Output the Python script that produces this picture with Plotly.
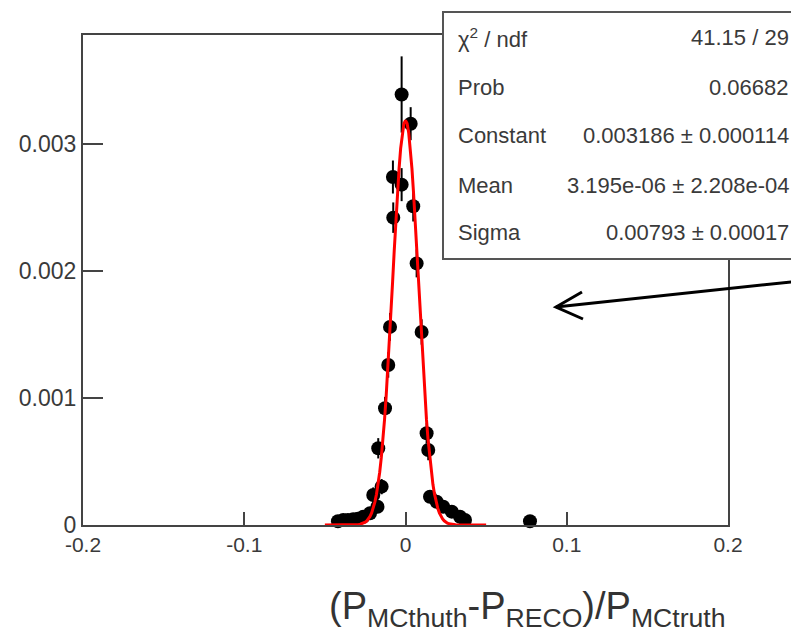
import numpy as np
import plotly.graph_objects as go

# ---- data ----
x_vals = [-0.0419, -0.0386, -0.0357, -0.0324, -0.0295, -0.0262, -0.0220, -0.0200,
          -0.0174, -0.0169, -0.0148, -0.0127, -0.0107, -0.0096, -0.0078, -0.0076,
          -0.0024, -0.0024, 0.0032, 0.0048, 0.0069, 0.0100, 0.0131, 0.0141,
          0.0152, 0.0193, 0.0234, 0.0287, 0.0338, 0.0369, 0.0772]
y_vals = [0.000030, 0.000039, 0.000040, 0.000045, 0.000050, 0.000065, 0.000092, 0.000236,
          0.000144, 0.000604, 0.000302, 0.000919, 0.001260, 0.001560, 0.002740, 0.002420,
          0.002680, 0.003390, 0.003160, 0.002510, 0.002060, 0.001520, 0.000722, 0.000590,
          0.000223, 0.000183, 0.000144, 0.000105, 0.000065, 0.000039, 0.000030]
y_errs = [0.00003, 0.00003, 0.00003, 0.00003, 0.00003, 0.00004, 0.00004, 0.00006,
          0.00005, 0.00008, 0.00006, 0.00009, 0.0001, 0.00011, 0.00013, 0.00012,
          0.00013, 0.00030, 0.00013, 0.00012, 0.00011, 0.0001, 0.00008, 0.00008,
          0.00005, 0.00005, 0.00004, 0.00004, 0.00003, 0.00003, 0.00003]

# fit parameters (from stats box)
fit_const = 0.003186
fit_mean = 3.195e-06
fit_sigma = 0.00793
fit_range = (-0.05, 0.05)

stat_labels = ["χ<sup>2</sup> / ndf", "Prob", "Constant", "Mean", "Sigma"]
stat_values = ["41.15 / 29", "0.06682", "0.003186 ± 0.000114",
               "3.195e-06 ± 2.208e-04", "0.00793 ± 0.00017"]

x_ticks = [-0.2, -0.1, 0, 0.1, 0.2]
x_ticktext = ["-0.2", "-0.1", "0", "0.1", "0.2"]
y_ticks = [0, 0.001, 0.002, 0.003]
y_ticktext = ["0", "0.001", "0.002", "0.003"]

# ---- layout geometry (pixels) ----
W, H = 791, 640
L, R, T, B = 83, 728, 35, 525


def px(x):
    return (x - L) / (R - L)


def py(y):
    return (B - y) / (B - T)


fx = np.linspace(fit_range[0], fit_range[1], 101)
fy = fit_const * np.exp(-0.5 * ((fx - fit_mean) / fit_sigma) ** 2)

fig = go.Figure()
fig.add_trace(go.Scatter(
    x=x_vals, y=y_vals, mode="markers",
    marker=dict(color="black", size=14),
    error_y=dict(type="data", array=y_errs, color="black", thickness=2, width=0),
    cliponaxis=False, showlegend=False))
fig.add_trace(go.Scatter(
    x=fx, y=fy, mode="lines", line=dict(color="red", width=3),
    showlegend=False))

axis_col = "#444"
font_col = "#3a3a3a"
fig.update_xaxes(range=[-0.2, 0.2], tickvals=x_ticks, ticktext=x_ticktext,
                 showgrid=False, zeroline=False, showline=True, mirror=True,
                 linecolor=axis_col, linewidth=2, ticks="inside", ticklen=13,
                 tickwidth=2, tickcolor=axis_col,
                 tickfont=dict(family="Liberation Sans", size=21, color=font_col))
fig.update_yaxes(range=[0, (B - T) / 127000], tickvals=y_ticks, ticktext=y_ticktext,
                 showgrid=False, zeroline=False, showline=True, mirror=True,
                 linecolor=axis_col, linewidth=2, ticks="inside", ticklen=20,
                 tickwidth=2, tickcolor=axis_col,
                 tickfont=dict(family="Liberation Sans", size=23, color=font_col))

shapes = []
# stats box
shapes.append(dict(type="rect", xref="paper", yref="paper",
                   x0=px(443), x1=px(805), y0=py(259), y1=py(12),
                   line=dict(color="#555", width=2), fillcolor="white", layer="above"))
# arrow
shapes.append(dict(type="path", xref="paper", yref="paper",
                   path=f"M {px(800)} {py(281)} L {px(556)} {py(307)}",
                   line=dict(color="black", width=3)))
shapes.append(dict(type="path", xref="paper", yref="paper",
                   path=f"M {px(582)} {py(292)} L {px(556)} {py(307)} L {px(583)} {py(319)}",
                   line=dict(color="black", width=3)))

annotations = []
row_y = [38, 88, 135, 185, 233]
for lab, val, ry in zip(stat_labels, stat_values, row_y):
    annotations.append(dict(xref="paper", yref="paper", x=px(456), y=py(ry),
                            xanchor="left", yanchor="middle", text=lab, showarrow=False,
                            font=dict(family="Liberation Sans", size=22, color=font_col)))
    annotations.append(dict(xref="paper", yref="paper", x=px(791), y=py(ry),
                            xanchor="right", yanchor="middle", text=val, showarrow=False,
                            font=dict(family="Liberation Sans", size=22, color=font_col)))

annotations.append(dict(xref="paper", yref="paper", x=1.0, y=py(609),
                        xanchor="right", yanchor="middle", showarrow=False,
                        text="(P<sub>MCthuth</sub>-P<sub>RECO</sub>)/P<sub>MCtruth</sub>",
                        font=dict(family="Liberation Sans", size=38, color="#333")))

fig.update_layout(width=W, height=H, margin=dict(l=L, r=W - R, t=T, b=H - B),
                  plot_bgcolor="white", paper_bgcolor="white",
                  shapes=shapes, annotations=annotations)

fig.write_html("out.html")
